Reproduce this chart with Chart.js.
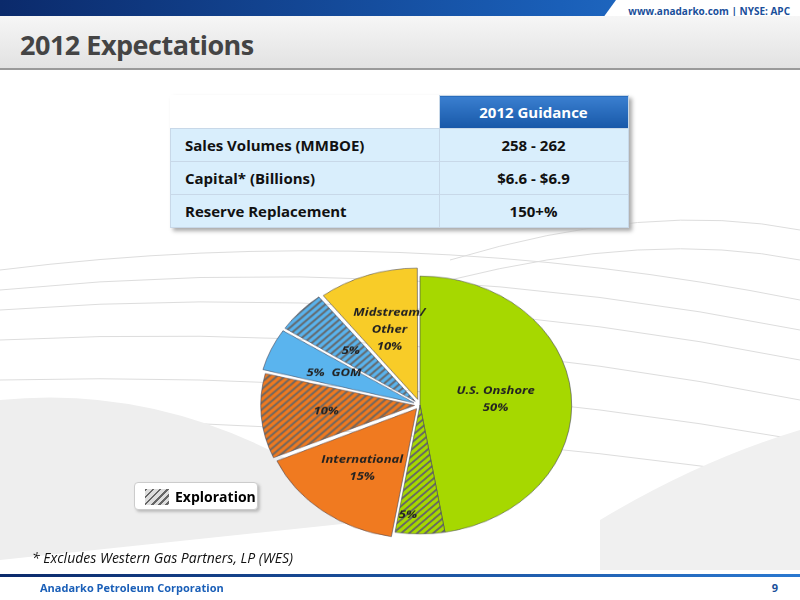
<!DOCTYPE html>
<html><head><meta charset="utf-8">
<script src="https://cdn.jsdelivr.net/npm/chart.js@4"></script>
<style>
body{margin:0;width:800px;height:600px;overflow:hidden;font-family:Calibri,"Liberation Sans Narrow","Open Sans",sans-serif;background:#fff;position:relative}
#top{position:absolute;left:0;top:0;width:800px;height:16px;background:linear-gradient(90deg,#0b2a6b,#1a5fb8 70%,#2a78d0)}
#tag{position:absolute;right:0;top:0;width:200px;height:22px;background:#fff;clip-path:polygon(8% 0,100% 0,100% 100%,0 100%);font:bold 10px "Open Sans",sans-serif;color:#1a4f9a;text-align:right;padding-right:10px;line-height:22px;box-sizing:border-box}
#head{position:absolute;left:0;top:16px;width:800px;height:52px;background:linear-gradient(#f6f6f6,#e2e2e2);border-bottom:2px solid #9a9a9a}
#title{position:absolute;left:20px;top:26px;font:bold 27px "Open Sans",sans-serif;color:#444;letter-spacing:-0.5px}
table{position:absolute;left:170px;top:95px;border-collapse:collapse;font:bold 15px "Open Sans",sans-serif;color:#111;box-shadow:3px 3px 4px #aaa}
td{height:32px;border:1px solid #c8d8e8;background:#d9eefc;padding:0 14px}
td.v{text-align:center;width:160px}
td.h{background:linear-gradient(#3a7fd0,#1858a8);color:#fff;text-align:center}
td.e{background:transparent;border:none;width:240px}
#wrap{position:absolute;left:250px;top:235px;width:340px;height:340px;transform:scaleY(0.85);transform-origin:50% 50%}
#leg{position:absolute;left:134px;top:482px;width:124px;height:28px;border:1px solid #ccc;border-radius:4px;background:#fff;box-shadow:2px 2px 3px #bbb;font:bold 14px "Open Sans",sans-serif;line-height:28px;white-space:nowrap;box-sizing:border-box}
#leg i{display:inline-block;width:24px;height:16px;margin:0 6px 0 10px;vertical-align:-3px;background:repeating-linear-gradient(135deg,#666 0 2px,#ddd 2px 5px)}
#note{position:absolute;left:32px;top:548px;font:italic 14px "Open Sans",sans-serif;color:#111}
#foot{position:absolute;left:0;top:574px;width:800px;height:3px;background:linear-gradient(90deg,#0b2a6b,#2a78d0)}
#corp{position:absolute;left:40px;top:580px;font:bold 11px "Open Sans",sans-serif;color:#1a5fb8}
#pg{position:absolute;right:22px;top:580px;font:bold 11px "Open Sans",sans-serif;color:#1a4f9a}
svg{position:absolute;left:0;top:0}
</style></head><body>
<svg width="800" height="600"><g fill="none" stroke="#ddd" stroke-width="1">
<path d="M0 270 Q400 220 800 300"/><path d="M0 290 Q400 250 800 330"/><path d="M0 310 Q400 280 800 360"/><path d="M0 340 Q400 320 800 400"/><path d="M0 380 Q400 370 800 440"/><path d="M0 420 Q400 420 800 480"/><path d="M450 260 Q650 200 800 230"/><path d="M450 280 Q650 230 800 260"/></g>
<path d="M0 400 Q200 380 380 520 L0 560Z" fill="#eee"/><path d="M600 520 Q700 460 800 430 L800 570 L600 570Z" fill="#f0f0f0"/></svg>
<div id="top"></div><div id="tag">www.anadarko.com | NYSE: APC</div>
<div id="head"></div><div id="title">2012 Expectations</div>
<table>
<tr><td class="e"></td><td class="h v">2012 Guidance</td></tr>
<tr><td>Sales Volumes (MMBOE)</td><td class="v">258 - 262</td></tr>
<tr><td>Capital* (Billions)</td><td class="v">$6.6 - $6.9</td></tr>
<tr><td>Reserve Replacement</td><td class="v">150+%</td></tr>
</table>
<div id="wrap"><canvas id="c"></canvas></div>
<div id="leg"><i></i>Exploration</div>
<div id="note">* Excludes Western Gas Partners, LP (WES)</div>
<div id="foot"></div><div id="corp">Anadarko Petroleum Corporation</div><div id="pg">9</div>
<script>
const categories=["U.S. Onshore","U.S. Onshore Exploration","International","International Exploration","GOM","GOM Exploration","Midstream/Other"];
const values=[45,5,15,10,5,5,10];
const sliceLabels=["U.S. Onshore\n50%","5%","International\n15%","10%","5%  GOM","5%","Midstream/\nOther\n10%"];
const baseColors=["#a6d800","#a6d800","#f07a20","#f07a20","#5ab4ee","#5ab4ee","#f8cc28"];
const hatched=[false,true,false,true,false,true,false];
const offsets=[0,0,22,22,26,26,28];
function hatch(col){const p=document.createElement('canvas');p.width=p.height=8;const x=p.getContext('2d');x.fillStyle=col;x.fillRect(0,0,8,8);x.strokeStyle='#666';x.lineWidth=2;x.beginPath();x.moveTo(0,8);x.lineTo(8,0);x.moveTo(-4,4);x.lineTo(4,-4);x.moveTo(4,12);x.lineTo(12,4);x.stroke();return x.createPattern(p,'repeat');}
const ctx=document.getElementById('c').getContext('2d');
const fills=baseColors.map((c,i)=>hatched[i]?hatch(c):c);
const labelPlugin={id:'lbl',afterDatasetsDraw(ch){const c=ch.ctx;ch.getDatasetMeta(0).data.forEach((a,i)=>{const m=(a.startAngle+a.endAngle)/2;const r=a.outerRadius*(i==0?0.5:0.62);let x=a.x+Math.cos(m)*r,y=a.y+Math.sin(m)*r;if(i==1){x=a.x-12;y=a.y+a.outerRadius*0.85;}c.save();c.font='italic bold 13px "Open Sans",sans-serif';c.fillStyle='#222';c.textAlign='center';c.textBaseline='middle';const ls=sliceLabels[i].split('\n');ls.forEach((l,k)=>c.fillText(l,x,y+(k-(ls.length-1)/2)*20));c.restore();});}};
new Chart(ctx,{type:'pie',data:{labels:categories,datasets:[{data:values,backgroundColor:fills,offset:offsets,borderColor:'#445',borderWidth:0.6}]},
options:{responsive:true,maintainAspectRatio:false,animation:false,layout:{padding:4},plugins:{legend:{display:false},tooltip:{enabled:false}}},plugins:[labelPlugin]});
</script>
</body></html>
